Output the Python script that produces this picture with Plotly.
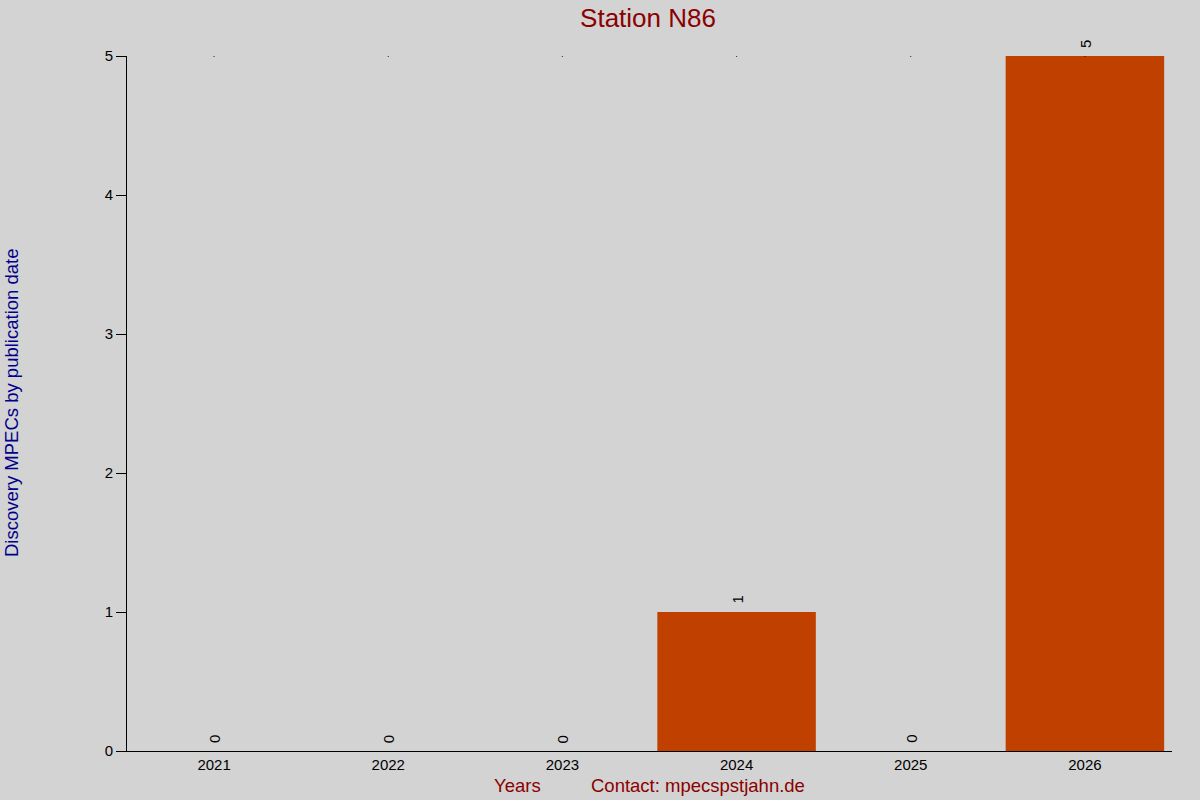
import plotly.graph_objects as go

# Discovery MPECs per year
years = ['2021', '2022', '2023', '2024', '2025', '2026']
counts = [0, 0, 0, 1, 0, 5]

title = 'Station N86'
y_title = 'Discovery MPECs by publication date'
x_title = 'Years'
contact = 'Contact: mpecspstjahn.de'

bg = '#d3d3d3'
bar_color = '#c04000'
red = '#8b0000'

W, H = 1200, 800
L, R, T, B = 127, 28, 56, 49
pw, ph = W - L - R, H - T - B

fig = go.Figure()

# tiny marks along the top of the plot (drawn first, bars cover them)
fig.add_trace(go.Scatter(
    x=years,
    y=[max(counts)] * len(years),
    mode='markers',
    marker=dict(size=1.5, color='black'),
    hoverinfo='skip',
    cliponaxis=True,
))

fig.add_trace(go.Bar(
    x=years,
    y=counts,
    marker=dict(color=bar_color, line=dict(width=0)),
    cliponaxis=False,
    hoverinfo='x+y',
))

# value labels, rotated, just above each bar
# (numeric-looking strings are read as category indices, so use the index)
labels = [
    dict(x=i, y=c, xref='x', yref='y', text=str(c), textangle=-90,
         xanchor='center', yanchor='middle', yshift=12, showarrow=False,
         font=dict(size=15, color='black'))
    for i, c in enumerate(counts)
]

fig.update_layout(
    width=W,
    height=H,
    paper_bgcolor=bg,
    plot_bgcolor=bg,
    showlegend=False,
    bargap=0.09,
    font=dict(family='Liberation Sans, Arial, sans-serif', size=15, color='black'),
    margin=dict(l=L, r=R, t=T, b=B),
    title=dict(text=title, x=648 / W, xanchor='center', xref='container',
               y=1 - 18 / H, yanchor='middle', yref='container',
               font=dict(size=26, color=red)),
    xaxis=dict(
        type='category',
        range=[-0.5, len(years) - 0.5],
        showgrid=False,
        showline=True,
        linecolor='black',
        linewidth=1,
        ticks='',
        tickfont=dict(size=15),
        zeroline=False,
    ),
    yaxis=dict(
        range=[0, 5],
        dtick=1,
        showgrid=False,
        showline=True,
        linecolor='black',
        linewidth=1,
        ticks='outside',
        ticklen=10,
        tickcolor='black',
        tickfont=dict(size=15),
        zeroline=False,
    ),
    annotations=labels + [
        dict(text=y_title, xref='paper', yref='paper',
             x=(11 - L) / pw, y=(H - B - 403) / ph, textangle=-90,
             xanchor='center', yanchor='middle', showarrow=False,
             font=dict(size=18.5, color='#00008b')),
        dict(text=x_title, xref='paper', yref='paper',
             x=(517 - L) / pw, y=(H - B - 786) / ph,
             xanchor='center', yanchor='middle', showarrow=False,
             font=dict(size=18.5, color=red)),
        dict(text=contact, xref='paper', yref='paper',
             x=(698 - L) / pw, y=(H - B - 786) / ph,
             xanchor='center', yanchor='middle', showarrow=False,
             font=dict(size=18.5, color=red)),
    ],
)

fig.write_html('out.html',
               config={'displayModeBar': False},
               post_script="document.body.style.margin='0';"
                           "document.body.style.background='#d3d3d3';")
